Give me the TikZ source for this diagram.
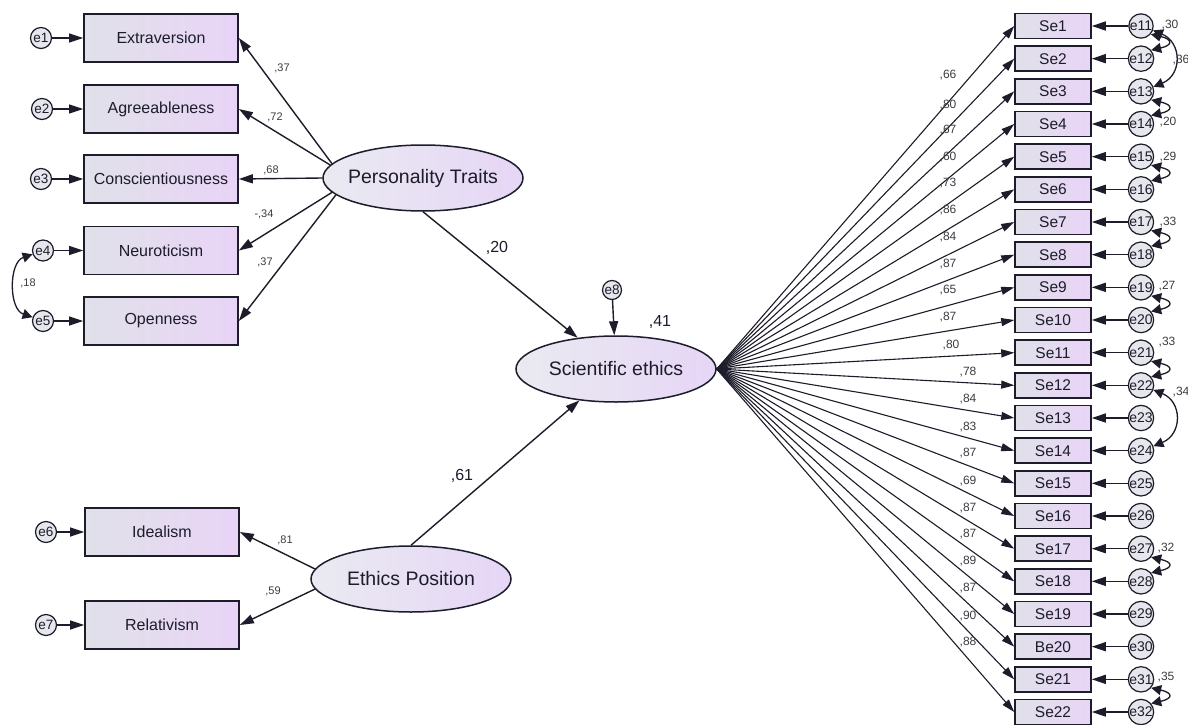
\documentclass[tikz,border=0pt]{standalone}
\usepackage{fontspec}
\setmainfont{Liberation Sans}
\usetikzlibrary{arrows.meta,shapes.geometric}
\definecolor{boxL}{RGB}{224,225,233}
\definecolor{boxR}{RGB}{233,212,247}
\definecolor{elL}{RGB}{234,234,241}
\definecolor{elR}{RGB}{230,214,246}
\definecolor{ink}{RGB}{28,28,42}
\definecolor{numc}{RGB}{60,60,66}
\definecolor{circf}{RGB}{230,230,237}
\tikzset{
 obs/.style={draw=ink, line width=1.7pt, minimum width=154pt, minimum height=48pt, inner sep=0pt,
   left color=boxL, right color=boxR, font=\fontsize{16}{17}\selectfont, text=ink},
 item/.style={draw=ink, line width=1.5pt, minimum width=76pt, minimum height=25pt, inner sep=0pt,
   left color=boxL, right color=boxR, font=\fontsize{15.5}{16}\selectfont, text=ink},
 latent/.style={ellipse, draw=ink, line width=1.5pt, minimum width=200pt, minimum height=66pt, inner sep=0pt,
   left color=elL, right color=elR, font=\fontsize{19.5}{20}\selectfont, text=ink},
 err/.style={circle, draw=ink, line width=1.2pt, fill=circf, minimum size=21pt, inner sep=0pt,
   font=\fontsize{13.5}{13.5}\selectfont, text=ink},
 errs/.style={circle, draw=ink, line width=1.2pt, fill=circf, minimum size=22pt, inner sep=0pt,
   font=\fontsize{14}{14}\selectfont, text=ink},
 arr/.style={draw=ink, line width=1.4pt, -{Triangle[length=14pt,width=9pt]}},
 load/.style={draw=ink, line width=1.1pt, -{Triangle[length=13pt,width=8pt]}},
 cov/.style={draw=ink, line width=1.3pt, {Triangle[length=10pt,width=10pt]}-{Triangle[length=10pt,width=10pt]}},
 lab/.style={font=\fontsize{11}{11}\selectfont, text=numc, inner sep=0pt},
 rlab/.style={font=\fontsize{12}{12}\selectfont, text=numc, inner sep=0pt},
 blab/.style={font=\fontsize{16}{16}\selectfont, text=ink, inner sep=0pt},
}
\begin{document}
\begin{tikzpicture}[x=1pt,y=-1pt]
\useasboundingbox (0,0) rectangle (1188,725);
\fill[white] (0,0) rectangle (1188,725);

% left observed
\node[obs] (B1) at (161,38) {Extraversion};
\node[obs] (B2) at (161,109) {Agreeableness};
\node[obs] (B3) at (161,179) {Conscientiousness};
\node[obs] (B4) at (161,250.5) {Neuroticism};
\node[obs] (B5) at (161,321) {Openness};
\node[obs] (B6) at (162,532) {Idealism};
\node[obs] (B7) at (162,625) {Relativism};

\node[err] (e1) at (41,38) {e1};
\node[err] (e2) at (42,109) {e2};
\node[err] (e3) at (41,179) {e3};
\node[err] (e4) at (43,250.5) {e4};
\node[err] (e5) at (43,321) {e5};
\node[err] (e6) at (46,532) {e6};
\node[err] (e7) at (46,625) {e7};
\foreach \k in {1,...,7} { \draw[arr] (e\k) -- (B\k); }

% latent
\node[latent] (PT) at (423,178) {\makebox[0pt]{Personality Traits}};
\node[latent] (EP) at (411,579) {\makebox[0pt]{Ethics Position}};
\node[latent] (SE) at (616,369) {\makebox[0pt]{Scientific ethics}};
\node[err, minimum size=19pt] (e8) at (612,290) {e8};

\draw[arr] (PT.171) -- (B1.east);
\draw[arr] (PT.172) -- (B2.east);
\draw[arr] (PT.west) -- (B3.east);
\draw[arr] (PT.189) -- (B4.east);
\draw[arr] (PT.191) -- (B5.east);
\draw[arr] (EP.174) -- (B6.east);
\draw[arr] (EP.186) -- (B7.east);
\draw[arr] (PT.south) -- (SE);
\draw[arr] (EP.north) -- (SE);
\draw[arr] (e8) -- (SE);
\draw[cov] (e4.200) .. controls +(-24,8) and +(-24,-8) .. (e5.160);

\node[lab] (l1) at (282,68) {,37};
\node[lab] (l2) at (275,117) {,72};
\node[lab] (l3) at (271,170) {,68};
\node[lab] (l4) at (264,214) {-,34};
\node[lab] (l5) at (265,262) {,37};
\node[lab] (l6) at (28,283) {,18};
\node[lab] (l7) at (285,540) {,81};
\node[lab] (l8) at (273,591) {,59};
\node[blab] (l9) at (497,248) {,20};
\node[blab] (l10) at (660,322) {,41};
\node[blab] (l11) at (462,476) {,61};

% right items
\foreach \i/\t in {1/Se1,2/Se2,3/Se3,4/Se4,5/Se5,6/Se6,7/Se7,8/Se8,9/Se9,10/Se10,11/Se11,12/Se12,13/Se13,14/Se14,15/Se15,16/Se16,17/Se17,18/Se18,19/Se19,20/Be20,21/Se21,22/Se22} {
  \pgfmathsetmacro{\yy}{26+(\i-1)*32.667}
  \pgfmathtruncatemacro{\ee}{\i+10}
  \node[item] (S\i) at (1053,\yy) {\t};
  \node[errs] (c\i) at (1141,\yy) {e\ee};
  \draw[arr] (c\i) -- (S\i.east);
  \draw[load] (SE.east) -- (S\i.west);
}

% loading labels
\foreach \v/\x/\y [count=\n] in {{,66}/948/75, {,80}/948/104.7, {,67}/948/130, {,60}/948/156.7, {,73}/948/183.3, {,86}/948/210, {,84}/948/237, {,87}/948/264, {,65}/948/290, {,87}/948/317, {,80}/951/345, {,78}/968/371.7, {,84}/968/399.3, {,83}/968/426.7, {,87}/968/453.3, {,69}/968/480.7, {,87}/968/507.7, {,87}/968/534.3, {,89}/968/561, {,87}/968/588.3, {,90}/968/615.7, {,88}/968/642.3} {
  \node[rlab] (r\n) at (\x,\y) {\v};
}

% covariances right
\draw[cov] (c1.-40) .. controls +(22,5) and +(22,-5) .. (c2.40);
\draw[cov] (c1.-20) .. controls +(29,12) and +(29,-12) .. (c3.20);
\draw[cov] (c3.-40) .. controls +(22,5) and +(22,-5) .. (c4.40);
\draw[cov] (c5.-40) .. controls +(22,5) and +(22,-5) .. (c6.40);
\draw[cov] (c7.-40) .. controls +(22,5) and +(22,-5) .. (c8.40);
\draw[cov] (c9.-40) .. controls +(22,5) and +(22,-5) .. (c10.40);
\draw[cov] (c11.-40) .. controls +(22,5) and +(22,-5) .. (c12.40);
\draw[cov] (c12.-20) .. controls +(29,12) and +(29,-12) .. (c14.20);
\draw[cov] (c17.-40) .. controls +(22,5) and +(22,-5) .. (c18.40);
\draw[cov] (c21.-40) .. controls +(22,5) and +(22,-5) .. (c22.40);

\node[rlab] (k1) at (1170,25) {,30};
\node[rlab] (k2) at (1181,60) {,36};
\node[rlab] (k3) at (1168,122) {,20};
\node[rlab] (k4) at (1168,157) {,29};
\node[rlab] (k5) at (1168,222) {,33};
\node[rlab] (k6) at (1167,286) {,27};
\node[rlab] (k7) at (1167,342) {,33};
\node[rlab] (k8) at (1181,392) {,34};
\node[rlab] (k9) at (1166,548) {,32};
\node[rlab] (k10) at (1166,677) {,35};
\end{tikzpicture}
\end{document}
